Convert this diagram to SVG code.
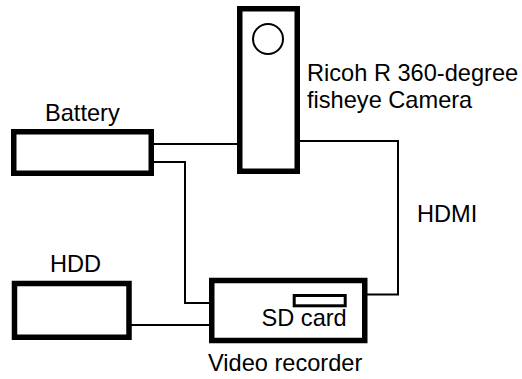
<svg xmlns="http://www.w3.org/2000/svg" width="522" height="379" viewBox="0 0 522 379">
<style>
.box{fill:#fff;stroke:#000;stroke-width:5.5}
.wire{fill:none;stroke:#000;stroke-width:2}
text{font-family:"Liberation Sans",Arial,sans-serif;font-size:23.6px;fill:#000}
</style>
<rect width="522" height="379" fill="#fff"/>
<g id="connectors">
<path class="wire" d="M154,144 H237"/>
<path class="wire" d="M154,162 H185 V303 H209"/>
<path class="wire" d="M131,325 H209"/>
<path class="wire" d="M300,141 H398 V294.5 H367"/>
</g>
<g id="battery">
<rect class="box" x="13.75" y="131.75" width="137.5" height="41.5"/>
<text x="45" y="121">Battery</text>
</g>
<g id="camera">
<rect class="box" x="239.75" y="8.75" width="57.5" height="162.5"/>
<circle cx="268" cy="39" r="15" fill="none" stroke="#000" stroke-width="2"/>
<text x="307" y="81">Ricoh R 360-degree</text>
<text x="307" y="108">fisheye Camera</text>
</g>
<g id="hdd">
<rect class="box" x="14.5" y="283.5" width="114.5" height="53.75"/>
<text x="50" y="272">HDD</text>
</g>
<g id="recorder">
<rect class="box" x="211.75" y="280.5" width="153" height="60"/>
<rect x="294.2" y="295.5" width="51" height="10.3" fill="#fff" stroke="#000" stroke-width="3"/>
<text x="261.5" y="325.5">SD card</text>
<text x="208" y="370.5">Video recorder</text>
</g>
<g id="hdmi-label">
<text x="417" y="222">HDMI</text>
</g>
</svg>
